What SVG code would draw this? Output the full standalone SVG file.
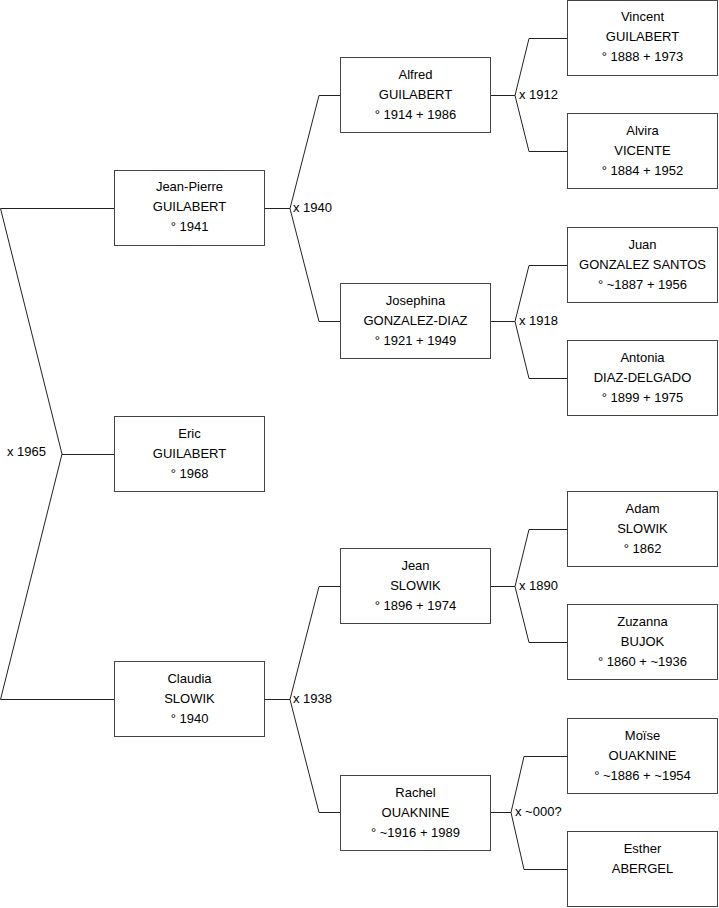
<svg xmlns="http://www.w3.org/2000/svg" width="719" height="908" viewBox="0 0 719 908">
<style>
.b{fill:#fff;stroke:#444;stroke-width:1}
text{font-family:"Liberation Sans",Arial,sans-serif;font-size:13px;fill:#000}
.c text{text-anchor:middle}
.l{fill:none;stroke:#222;stroke-width:1}
</style>
<rect width="719" height="908" fill="#fff"/>
<g id="connectors" class="l">
<polyline points="114,208.5 0.5,208.5 62,454 0.5,699.5 114,699.5"/>
<line x1="62" y1="454.5" x2="114" y2="454.5"/>
<polyline points="340,95.5 319,95.5 290,208.5 319,321.5 340,321.5"/>
<line x1="265" y1="208.5" x2="290" y2="208.5"/>
<polyline points="340,586.5 319,586.5 290,699.5 319,812.5 340,812.5"/>
<line x1="265" y1="699.5" x2="290" y2="699.5"/>
<polyline points="567,38.5 529,38.5 515,95.5 529,151.5 567,151.5"/>
<line x1="491" y1="95.5" x2="515" y2="95.5"/>
<polyline points="567,265.5 529,265.5 515,321.5 529,378.5 567,378.5"/>
<line x1="491" y1="321.5" x2="515" y2="321.5"/>
<polyline points="567,529.5 529,529.5 515,586.5 529,642.5 567,642.5"/>
<line x1="491" y1="586.5" x2="515" y2="586.5"/>
<polyline points="567,756.5 524,756.5 511,812.5 524,869.5 567,869.5"/>
<line x1="491" y1="812.5" x2="511" y2="812.5"/>
</g>
<g id="labels">
<text x="7" y="456">x 1965</text>
<text x="293" y="212">x 1940</text>
<text x="293" y="703">x 1938</text>
<text x="519" y="99">x 1912</text>
<text x="519" y="325">x 1918</text>
<text x="519" y="590">x 1890</text>
<text x="515" y="816">x ~000?</text>
</g>
<g id="n-jeanpierre" class="c"><rect class="b" x="114.5" y="170.5" width="150" height="75"/><text x="189.5" y="191">Jean-Pierre</text><text x="189.5" y="211">GUILABERT</text><text x="189.5" y="231">° 1941</text></g>
<g id="n-eric" class="c"><rect class="b" x="114.5" y="416.5" width="150" height="75"/><text x="189.5" y="438">Eric</text><text x="189.5" y="458">GUILABERT</text><text x="189.5" y="478">° 1968</text></g>
<g id="n-claudia" class="c"><rect class="b" x="114.5" y="661.5" width="150" height="75"/><text x="189.5" y="683">Claudia</text><text x="189.5" y="703">SLOWIK</text><text x="189.5" y="723">° 1940</text></g>
<g id="n-alfred" class="c"><rect class="b" x="340.5" y="57.5" width="150" height="75"/><text x="415.5" y="79">Alfred</text><text x="415.5" y="99">GUILABERT</text><text x="415.5" y="119">° 1914 + 1986</text></g>
<g id="n-josephina" class="c"><rect class="b" x="340.5" y="283.5" width="150" height="75"/><text x="415.5" y="305">Josephina</text><text x="415.5" y="325">GONZALEZ-DIAZ</text><text x="415.5" y="345">° 1921 + 1949</text></g>
<g id="n-jean" class="c"><rect class="b" x="340.5" y="548.5" width="150" height="75"/><text x="415.5" y="570">Jean</text><text x="415.5" y="590">SLOWIK</text><text x="415.5" y="610">° 1896 + 1974</text></g>
<g id="n-rachel" class="c"><rect class="b" x="340.5" y="775.5" width="150" height="75"/><text x="415.5" y="797">Rachel</text><text x="415.5" y="817">OUAKNINE</text><text x="415.5" y="837">° ~1916 + 1989</text></g>
<g id="n-vincent" class="c"><rect class="b" x="567.5" y="0.5" width="150" height="75"/><text x="642.5" y="21">Vincent</text><text x="642.5" y="41">GUILABERT</text><text x="642.5" y="61">° 1888 + 1973</text></g>
<g id="n-alvira" class="c"><rect class="b" x="567.5" y="113.5" width="150" height="75"/><text x="642.5" y="135">Alvira</text><text x="642.5" y="155">VICENTE</text><text x="642.5" y="175">° 1884 + 1952</text></g>
<g id="n-juan" class="c"><rect class="b" x="567.5" y="227.5" width="150" height="75"/><text x="642.5" y="249">Juan</text><text x="642.5" y="269">GONZALEZ SANTOS</text><text x="642.5" y="289">° ~1887 + 1956</text></g>
<g id="n-antonia" class="c"><rect class="b" x="567.5" y="340.5" width="150" height="75"/><text x="642.5" y="362">Antonia</text><text x="642.5" y="382">DIAZ-DELGADO</text><text x="642.5" y="402">° 1899 + 1975</text></g>
<g id="n-adam" class="c"><rect class="b" x="567.5" y="491.5" width="150" height="75"/><text x="642.5" y="513">Adam</text><text x="642.5" y="533">SLOWIK</text><text x="642.5" y="553">° 1862</text></g>
<g id="n-zuzanna" class="c"><rect class="b" x="567.5" y="604.5" width="150" height="75"/><text x="642.5" y="626">Zuzanna</text><text x="642.5" y="646">BUJOK</text><text x="642.5" y="666">° 1860 + ~1936</text></g>
<g id="n-moise" class="c"><rect class="b" x="567.5" y="718.5" width="150" height="75"/><text x="642.5" y="740">Moïse</text><text x="642.5" y="760">OUAKNINE</text><text x="642.5" y="780">° ~1886 + ~1954</text></g>
<g id="n-esther" class="c"><rect class="b" x="567.5" y="831.5" width="150" height="75"/><text x="642.5" y="853">Esther</text><text x="642.5" y="873">ABERGEL</text></g>
</svg>
